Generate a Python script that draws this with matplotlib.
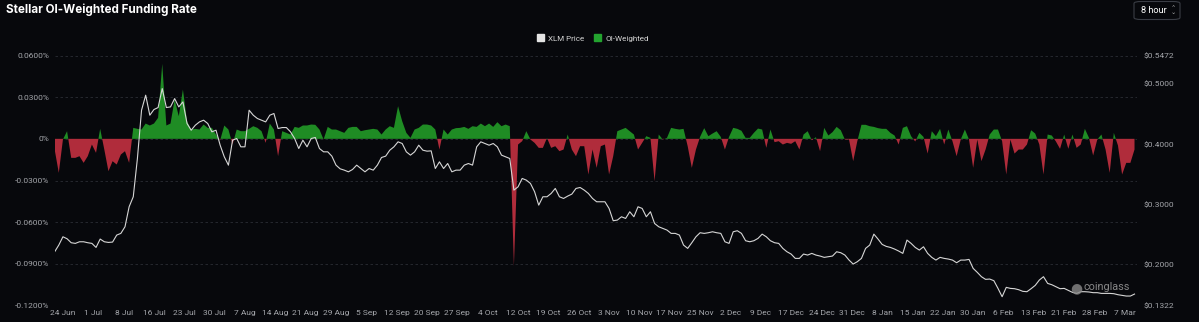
import numpy as np
import pandas as pd
import matplotlib
matplotlib.use("Agg")
import matplotlib.pyplot as plt
from matplotlib.patches import Patch, FancyBboxPatch

# daily samples starting 22 Jun 2024
start_date = "2024-06-22"

xlm_price = [
    0.2214, 0.2325, 0.2463, 0.2430, 0.2364, 0.2353, 0.2380, 0.2380, 0.2364, 0.2353,
    0.2286, 0.2425, 0.2380, 0.2369, 0.2375, 0.2491, 0.2519, 0.2629, 0.2961, 0.3127,
    0.3762, 0.4564, 0.4813, 0.4481, 0.4575, 0.4608, 0.4923, 0.4608, 0.4619, 0.4757,
    0.4619, 0.4702, 0.4343, 0.4232, 0.4315, 0.4370, 0.4398, 0.4343, 0.4205, 0.4232,
    0.3983, 0.3790, 0.3652, 0.4066, 0.4094, 0.3956, 0.3956, 0.4564, 0.4481, 0.4426,
    0.4398, 0.4370, 0.4481, 0.4509, 0.4260, 0.4276, 0.4276, 0.4205, 0.4094, 0.3928,
    0.4066, 0.3956, 0.4094, 0.4111, 0.3928, 0.3873, 0.3873,
    0.3801, 0.3652, 0.3591, 0.3569, 0.3541, 0.3580, 0.3652, 0.3596, 0.3541, 0.3596,
    0.3569, 0.3652, 0.3779, 0.3801, 0.3900, 0.3956, 0.4039, 0.4011, 0.3873, 0.3818,
    0.3873, 0.3983, 0.3900, 0.3884, 0.3889, 0.3596, 0.3707, 0.3596, 0.3679, 0.3541,
    0.3569, 0.3569, 0.3652, 0.3679, 0.3652, 0.3956, 0.4039, 0.4011, 0.3983, 0.4011,
    0.3956, 0.3818, 0.3790, 0.3762, 0.3237, 0.3292, 0.3431, 0.3403, 0.3348, 0.3210,
    0.2988, 0.3127, 0.3127, 0.3182, 0.3265, 0.3127, 0.3099, 0.3138, 0.3171, 0.3265,
    0.3281, 0.3237, 0.3182, 0.3099, 0.3044,
    0.3044, 0.3044, 0.2933, 0.2729, 0.2740, 0.2795, 0.2767, 0.2878, 0.2795, 0.2961,
    0.2933, 0.2795, 0.2878, 0.2684, 0.2629, 0.2601, 0.2574, 0.2519, 0.2519, 0.2491,
    0.2325, 0.2270, 0.2364, 0.2463, 0.2530, 0.2519, 0.2530, 0.2546, 0.2530, 0.2519,
    0.2380, 0.2353, 0.2546, 0.2563, 0.2519, 0.2397, 0.2380, 0.2397, 0.2436, 0.2507,
    0.2463, 0.2397, 0.2364, 0.2353, 0.2270, 0.2214, 0.2176, 0.2104, 0.2104, 0.2176,
    0.2159, 0.2187, 0.2159, 0.2143, 0.2121, 0.2132, 0.2143, 0.2214, 0.2198, 0.2159,
    0.2076, 0.2010, 0.2049, 0.2104, 0.2270, 0.2325,
    0.2507, 0.2425, 0.2336, 0.2303, 0.2286, 0.2259, 0.2226, 0.2187, 0.2408, 0.2353,
    0.2286, 0.2242, 0.2297, 0.2187, 0.2121, 0.2076, 0.2121, 0.2104, 0.2093, 0.2076,
    0.2032, 0.2076, 0.2076, 0.2087, 0.1938, 0.1872, 0.1800, 0.1756, 0.1761, 0.1734,
    0.1606, 0.1468, 0.1623, 0.1606, 0.1601, 0.1584, 0.1557, 0.1551, 0.1601, 0.1656,
    0.1745, 0.1800, 0.1689, 0.1667, 0.1634, 0.1601, 0.1606, 0.1573, 0.1540, 0.1523,
    0.1551, 0.1551, 0.1546, 0.1535, 0.1535, 0.1523, 0.1523, 0.1523, 0.1518, 0.1501,
    0.1490, 0.1479, 0.1479, 0.1512,
]

# OI-weighted funding rate, in percent
funding = [
    -0.0077, -0.0245, -0.0005, 0.0055, -0.0137, -0.0137, -0.0125, -0.0173, -0.0125, -0.0041,
    -0.0101, 0.0072, -0.0077, -0.0233, -0.0161, -0.0185, -0.0113, -0.0089, -0.0173, 0.0079,
    0.0072, 0.0067, 0.0110, 0.0096, 0.0110, 0.0151, 0.0540, 0.0096, 0.0110, 0.0283,
    0.0163, 0.0355, 0.0127, 0.0067, 0.0072, 0.0067, 0.0103, 0.0079, 0.0079, 0.0031,
    -0.0010, 0.0096, 0.0067, -0.0041, 0.0067, 0.0055, 0.0055, 0.0072, 0.0091, 0.0079,
    0.0055, -0.0029, 0.0110, 0.0067, -0.0125, 0.0055, 0.0043, 0.0031, 0.0086, 0.0079,
    0.0096, 0.0096, 0.0103, 0.0101, 0.0067, -0.0005, 0.0086,
    0.0067, 0.0067, 0.0055, 0.0043, 0.0079, 0.0086, 0.0086, 0.0055, 0.0062, 0.0067,
    0.0072, 0.0067, 0.0031, 0.0067, 0.0091, 0.0079, 0.0235, 0.0127, 0.0043, 0.0007,
    0.0067, 0.0079, 0.0103, 0.0103, 0.0096, 0.0067, -0.0077, 0.0067, 0.0031, 0.0067,
    0.0077, 0.0079, 0.0086, 0.0072, 0.0091, 0.0086, 0.0110, 0.0091, 0.0110, 0.0086,
    0.0120, 0.0091, 0.0103, 0.0091, -0.0917, -0.0041, -0.0017, 0.0055, -0.0005, -0.0029,
    -0.0065, -0.0065, 0.0007, -0.0065, -0.0053, -0.0089, -0.0077, 0.0031, -0.0077, -0.0125,
    -0.0053, -0.0053, -0.0257, -0.0077, -0.0209,
    -0.0053, -0.0041, -0.0257, -0.0125, 0.0055, 0.0067, 0.0079, 0.0055, 0.0031, -0.0077,
    -0.0029, 0.0019, 0.0007, -0.0305, 0.0031, -0.0005, 0.0007, 0.0079, 0.0072, 0.0067,
    0.0072, -0.0053, -0.0209, -0.0077, 0.0014, 0.0077, 0.0019, 0.0038, 0.0055, 0.0014,
    -0.0077, 0.0014, 0.0079, 0.0072, 0.0058, 0.0007, 0.0007, 0.0043, 0.0074, 0.0067,
    -0.0065, 0.0067, -0.0024, -0.0017, -0.0041, -0.0029, -0.0036, -0.0017, -0.0077, 0.0031,
    0.0055, -0.0010, 0.0012, -0.0089, 0.0079, 0.0024, 0.0048, 0.0086, 0.0062, -0.0005,
    -0.0005, -0.0161, -0.0017, 0.0101, 0.0101, 0.0091,
    0.0086, 0.0077, 0.0072, 0.0072, 0.0043, 0.0024, -0.0041, 0.0079, 0.0091, 0.0019,
    -0.0019, 0.0043, 0.0014, -0.0106, 0.0055, 0.0019, 0.0072, -0.0041, 0.0067, -0.0017,
    -0.0125, -0.0005, 0.0067, -0.0005, -0.0209, -0.0005, -0.0161, -0.0077, 0.0031, 0.0067,
    0.0067, -0.0017, -0.0257, -0.0005, -0.0106, -0.0077, -0.0077, -0.0041, 0.0062, 0.0038,
    -0.0041, -0.0257, 0.0031, 0.0024, -0.0019, -0.0072, 0.0031, -0.0072, 0.0031, -0.0065,
    -0.0041, 0.0072, 0.0007, -0.0120, -0.0005, 0.0031, -0.0077, -0.0245, 0.0043, -0.0048,
    -0.0257, -0.0173, -0.0173, -0.0077,
]

x_labels = ["24 Jun", "1 Jul", "8 Jul", "16 Jul", "23 Jul", "30 Jul", "7 Aug", "14 Aug",
            "21 Aug", "29 Aug", "5 Sep", "12 Sep", "20 Sep", "27 Sep", "4 Oct", "12 Oct",
            "19 Oct", "26 Oct", "3 Nov", "10 Nov", "17 Nov", "25 Nov", "2 Dec", "9 Dec",
            "17 Dec", "24 Dec", "31 Dec", "8 Jan", "15 Jan", "22 Jan", "30 Jan", "6 Feb",
            "13 Feb", "21 Feb", "28 Feb", "7 Mar"]
left_ticks = [-0.12, -0.09, -0.06, -0.03, 0, 0.03, 0.06]
right_ticks = [0.1322, 0.2, 0.3, 0.4, 0.5, 0.5472]

bg = "#07080c"
green = "#1f8c24"
red = "#b02c3b"
tick_col = "#a4a6ab"
font = "Roboto"

dates = pd.date_range(start_date, periods=len(xlm_price), freq="D")
f = np.array(funding)
# labels sit every 22 eight-hour periods
tick_pos = pd.Timestamp("2024-06-24") + pd.to_timedelta(np.arange(len(x_labels)) * 176, unit="h")

fig = plt.figure(figsize=(11.99, 3.22), dpi=100, facecolor=bg)
ax = fig.add_axes([55 / 1199, 1 - 305.5 / 322, (1137 - 55) / 1199, 250 / 322])
ax.set_facecolor(bg)
ax2 = ax.twinx()

ax.fill_between(dates, f, 0, where=f >= 0, interpolate=True, color=green, lw=0)
ax.fill_between(dates, f, 0, where=f <= 0, interpolate=True, color=red, lw=0)
ax2.plot(dates, xlm_price, color="#d6d6d6", lw=0.8)

ax.set_ylim(-0.12, 0.06)
ax2.set_ylim(0.1322, 0.5472)
ax.set_xlim(pd.Timestamp(start_date) + pd.Timedelta(hours=2),
            pd.Timestamp(start_date) + pd.Timedelta(days=261.6))

ax.set_yticks(left_ticks)
ax.set_yticklabels(["0%" if v == 0 else f"{v:.4f}%" for v in left_ticks])
ax2.set_yticks(right_ticks)
ax2.set_yticklabels([f"${v:.4f}" for v in right_ticks])
ax.set_xticks(tick_pos)
ax.set_xticklabels(x_labels)

for v in left_ticks:
    ax.axhline(v, color="#2a2d34", lw=0.6, ls=(0, (3, 3)), zorder=0)

for a in (ax, ax2):
    for s in a.spines.values():
        s.set_visible(False)
    a.tick_params(length=0, labelsize=6, labelcolor=tick_col)
    for lab in a.get_xticklabels() + a.get_yticklabels():
        lab.set_fontfamily(font)
ax.tick_params(axis="y", pad=4)
ax.tick_params(axis="x", pad=3)
ax2.tick_params(axis="y", pad=5)

fig.text(6 / 1199, 1 - 10 / 322, "Stellar OI-Weighted Funding Rate", color="white",
         fontsize=8.4, fontweight="bold", family="Inter", va="center")

fig.legend(handles=[Patch(color="#e4e4e4", label="XLM Price"),
                    Patch(color="#23a32f", label="OI-Weighted")],
           loc="center", bbox_to_anchor=(593 / 1199, 1 - 38 / 322), ncol=2, frameon=False,
           prop={"family": font, "size": 5.8}, labelcolor="#d4d4d4",
           handlelength=0.9, handleheight=0.9, handletextpad=0.5, columnspacing=1.2)

btn = FancyBboxPatch((1134 / 1199, 1 - 19.5 / 322), 46 / 1199, 18 / 322,
                     boxstyle="round,pad=0,rounding_size=0.006", transform=fig.transFigure,
                     facecolor=bg, edgecolor="#3a3d45", lw=0.8)
fig.patches.append(btn)
fig.text(1141 / 1199, 1 - 10.5 / 322, "8 hour", color="white", fontsize=6.6,
         family=font, va="center")
fig.text(1173 / 1199, 1 - 8.5 / 322, "\u2303", color="#b0b0b0", fontsize=4.5,
         family="DejaVu Sans", va="center", ha="center")
fig.text(1173 / 1199, 1 - 12.5 / 322, "\u2304", color="#b0b0b0", fontsize=4.5,
         family="DejaVu Sans", va="center", ha="center")

# watermark
fig.text(1076 / 1199, 1 - 288 / 322, "\u25cf", color="#8a8a8a", alpha=0.8, fontsize=10,
         family="DejaVu Sans", va="center", ha="center")
fig.text(1083 / 1199, 1 - 287 / 322, "coinglass", color="#a8a8a8", alpha=0.8,
         fontsize=7.8, family=font, va="center")

fig.savefig("out.png", dpi=100, facecolor=bg)
